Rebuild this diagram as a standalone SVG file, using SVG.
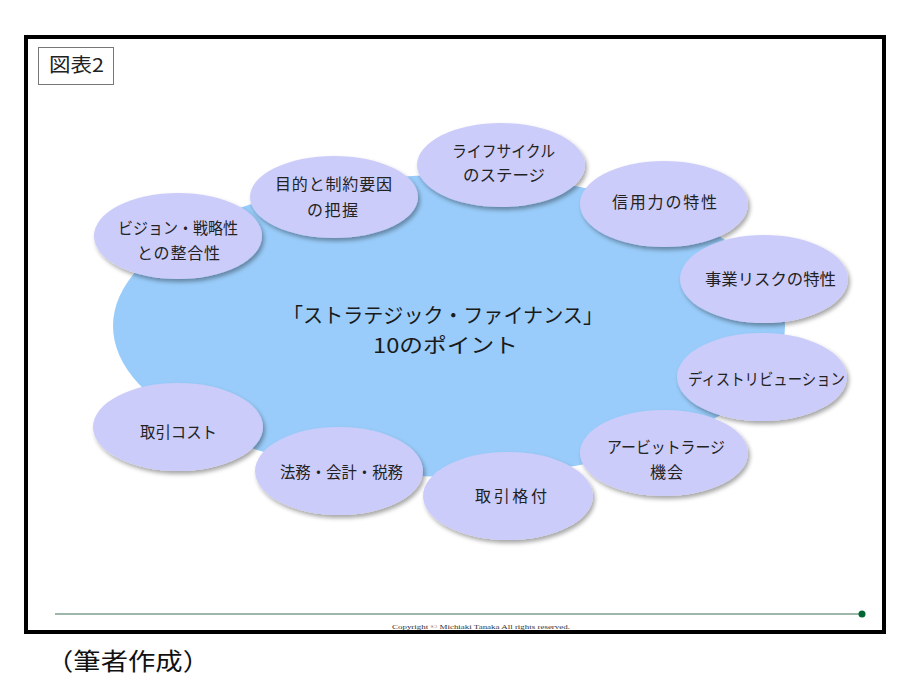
<svg xmlns="http://www.w3.org/2000/svg" width="910" height="684" viewBox="0 0 910 684">
<defs>
<filter id="sh" x="-20%" y="-20%" width="140%" height="150%">
<feDropShadow dx="2" dy="3" stdDeviation="2" flood-color="#000" flood-opacity="0.35"/>
</filter>
<style>
.node ellipse{fill:#ccccfa;filter:url(#sh);}
.t{font-family:"Noto Sans CJK JP","Noto Sans",sans-serif;font-size:16px;fill:#222;text-anchor:middle;}
.title{font-family:"Noto Sans CJK JP","Noto Sans",sans-serif;font-size:20.5px;fill:#1a1a1a;text-anchor:middle;}
</style>
</defs>
<rect x="0" y="0" width="910" height="684" fill="#fff"/>
<rect x="26" y="37" width="858" height="595" fill="#fff" stroke="#000" stroke-width="4"/>
<g id="label">
<rect x="38.5" y="47.5" width="75" height="37" fill="#fff" stroke="#777" stroke-width="1"/>
<text x="76.5" y="72" font-family="'Noto Sans CJK JP',sans-serif" font-size="19" fill="#222" text-anchor="middle" textLength="55" lengthAdjust="spacingAndGlyphs">図表2</text>
</g>
<g id="center">
<ellipse cx="449" cy="326" rx="336" ry="151" fill="#99ccfa"/>
<text class="title" x="443" y="323" textLength="320" lengthAdjust="spacingAndGlyphs">「ストラテジック・ファイナンス」</text>
<text class="title" x="445.5" y="353" textLength="145" lengthAdjust="spacingAndGlyphs">10のポイント</text>
</g>
<g id="connectors"></g>
<g id="n1" class="node"><ellipse cx="178" cy="236" rx="84" ry="43"/>
<text class="t" x="178" y="234" textLength="120" lengthAdjust="spacingAndGlyphs">ビジョン・戦略性</text>
<text class="t" x="178.5" y="259" textLength="83">との整合性</text></g>
<g id="n2" class="node"><ellipse cx="334" cy="197" rx="84" ry="41"/>
<text class="t" x="333.5" y="190" textLength="117">目的と制約要因</text>
<text class="t" x="332.5" y="216" textLength="51">の把握</text></g>
<g id="n3" class="node"><ellipse cx="501" cy="165" rx="84" ry="42"/>
<text class="t" x="503.5" y="157" textLength="103" lengthAdjust="spacingAndGlyphs">ライフサイクル</text>
<text class="t" x="504" y="181" textLength="82" lengthAdjust="spacingAndGlyphs">のステージ</text></g>
<g id="n4" class="node"><ellipse cx="664" cy="204" rx="84" ry="43"/>
<text class="t" x="664.5" y="208" textLength="105">信用力の特性</text></g>
<g id="n5" class="node"><ellipse cx="764" cy="279" rx="84" ry="44"/>
<text class="t" x="770.5" y="285" textLength="131" lengthAdjust="spacingAndGlyphs">事業リスクの特性</text></g>
<g id="n6" class="node"><ellipse cx="762" cy="377" rx="85" ry="44"/>
<text class="t" x="766.5" y="385" textLength="157" lengthAdjust="spacingAndGlyphs">ディストリビューション</text></g>
<g id="n7" class="node"><ellipse cx="664" cy="453" rx="84" ry="43"/>
<text class="t" x="666" y="453" textLength="118" lengthAdjust="spacingAndGlyphs">アービットラージ</text>
<text class="t" x="666.5" y="478" textLength="33">機会</text></g>
<g id="n8" class="node"><ellipse cx="508" cy="496" rx="85" ry="44"/>
<text class="t" x="511" y="502" textLength="72">取引格付</text></g>
<g id="n9" class="node"><ellipse cx="339" cy="471" rx="84" ry="44"/>
<text class="t" x="341.5" y="478" textLength="123" lengthAdjust="spacingAndGlyphs">法務・会計・税務</text></g>
<g id="n10" class="node"><ellipse cx="178" cy="427" rx="85" ry="44"/>
<text class="t" x="178.5" y="438" textLength="77" lengthAdjust="spacingAndGlyphs">取引コスト</text></g>
<g id="footer">
<line x1="55" y1="614" x2="862" y2="614" stroke="#7f9f8f" stroke-width="1.5"/>
<circle cx="862" cy="614" r="3.5" fill="#006633"/>
<text x="392" y="628.5" font-family="'Liberation Serif',serif" font-size="7" fill="#333" textLength="178" lengthAdjust="spacingAndGlyphs">Copyright © Michiaki Tanaka  All rights reserved.</text>
</g>
<text x="46" y="670" font-family="'Noto Sans CJK JP',sans-serif" font-size="24" fill="#111" textLength="164" lengthAdjust="spacingAndGlyphs">（筆者作成）</text>
</svg>
